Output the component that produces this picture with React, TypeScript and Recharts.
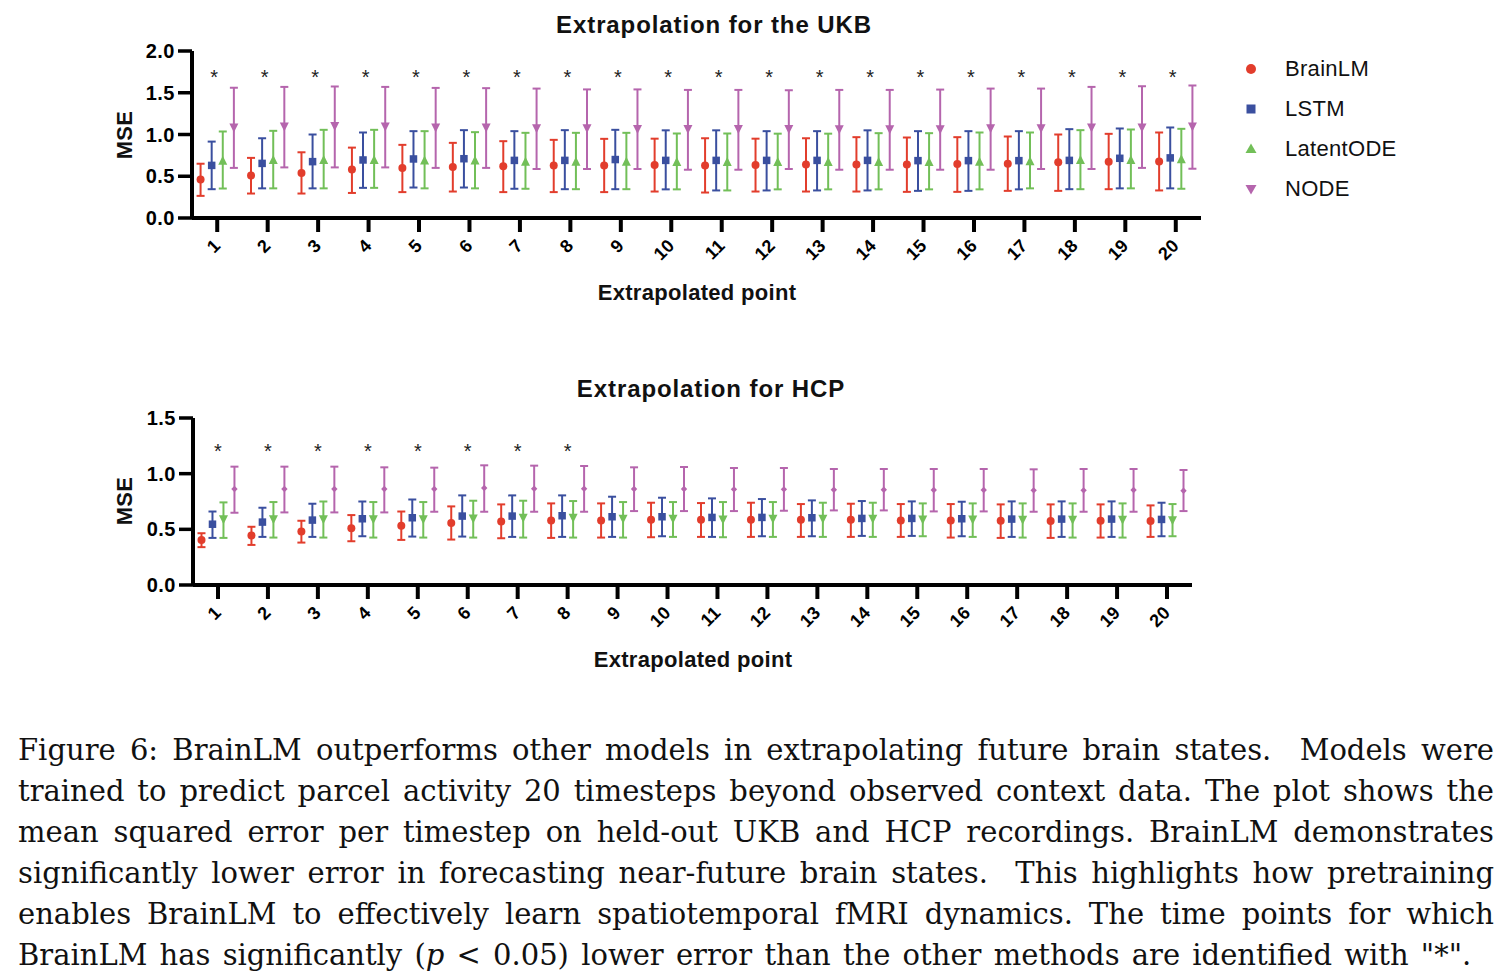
import React from 'react';
import { ComposedChart, Scatter, XAxis, YAxis, ErrorBar, Legend } from 'recharts';

// ---------- data ----------
const categories = [1, 2, 3, 4, 5, 6, 7, 8, 9, 10, 11, 12, 13, 14, 15, 16, 17, 18, 19, 20];
const modelNames = ['BrainLM', 'LSTM', 'LatentODE', 'NODE'];

// UKB panel
const ukbBrainMean = [0.46, 0.51, 0.54, 0.58, 0.6, 0.61, 0.62, 0.63, 0.63, 0.635, 0.63, 0.635, 0.64, 0.64, 0.64, 0.647, 0.65, 0.667, 0.675, 0.678];
const ukbBrainLow = [0.265, 0.293, 0.293, 0.3, 0.31, 0.317, 0.31, 0.31, 0.31, 0.317, 0.305, 0.317, 0.317, 0.317, 0.313, 0.313, 0.325, 0.325, 0.345, 0.33];
const ukbBrainHigh = [0.65, 0.72, 0.787, 0.843, 0.876, 0.9, 0.92, 0.936, 0.948, 0.95, 0.955, 0.95, 0.955, 0.968, 0.964, 0.968, 0.976, 1.0, 1.008, 1.024];

const ukbLstmMean = [0.63, 0.654, 0.675, 0.695, 0.707, 0.71, 0.69, 0.69, 0.7, 0.69, 0.69, 0.69, 0.69, 0.69, 0.687, 0.687, 0.687, 0.69, 0.715, 0.72];
const ukbLstmLow = [0.345, 0.355, 0.355, 0.361, 0.365, 0.365, 0.35, 0.345, 0.345, 0.343, 0.33, 0.33, 0.33, 0.33, 0.325, 0.325, 0.343, 0.345, 0.355, 0.355];
const ukbLstmHigh = [0.915, 0.955, 1.0, 1.024, 1.04, 1.052, 1.04, 1.052, 1.056, 1.05, 1.05, 1.04, 1.04, 1.05, 1.04, 1.04, 1.04, 1.064, 1.072, 1.084];

const ukbLatentMean = [0.68, 0.69, 0.69, 0.69, 0.685, 0.683, 0.67, 0.67, 0.67, 0.667, 0.667, 0.667, 0.667, 0.667, 0.667, 0.67, 0.675, 0.69, 0.69, 0.7];
const ukbLatentLow = [0.353, 0.355, 0.355, 0.361, 0.355, 0.355, 0.35, 0.345, 0.345, 0.343, 0.33, 0.343, 0.343, 0.343, 0.343, 0.343, 0.355, 0.345, 0.355, 0.35];
const ukbLatentHigh = [1.036, 1.044, 1.056, 1.056, 1.04, 1.028, 1.02, 1.02, 1.02, 1.012, 1.012, 1.01, 1.01, 1.016, 1.016, 1.024, 1.024, 1.052, 1.06, 1.068];

const ukbNodeMean = [1.09, 1.1, 1.108, 1.1, 1.09, 1.09, 1.08, 1.08, 1.072, 1.072, 1.072, 1.072, 1.068, 1.068, 1.068, 1.08, 1.08, 1.09, 1.09, 1.1];
const ukbNodeLow = [0.6, 0.606, 0.606, 0.606, 0.6, 0.6, 0.587, 0.587, 0.587, 0.578, 0.578, 0.587, 0.578, 0.578, 0.578, 0.578, 0.587, 0.587, 0.6, 0.59];
const ukbNodeHigh = [1.56, 1.57, 1.575, 1.57, 1.558, 1.555, 1.55, 1.54, 1.54, 1.534, 1.534, 1.53, 1.534, 1.534, 1.538, 1.55, 1.55, 1.57, 1.578, 1.587];

// HCP panel
const hcpBrainMean = [0.405, 0.444, 0.48, 0.51, 0.532, 0.556, 0.57, 0.58, 0.58, 0.586, 0.586, 0.586, 0.586, 0.586, 0.58, 0.58, 0.577, 0.574, 0.577, 0.574];
const hcpBrainLow = [0.34, 0.36, 0.381, 0.393, 0.405, 0.408, 0.42, 0.423, 0.426, 0.429, 0.432, 0.432, 0.432, 0.432, 0.432, 0.426, 0.423, 0.423, 0.426, 0.432];
const hcpBrainHigh = [0.465, 0.523, 0.577, 0.628, 0.66, 0.706, 0.724, 0.733, 0.733, 0.739, 0.736, 0.739, 0.727, 0.73, 0.727, 0.727, 0.724, 0.724, 0.724, 0.715];

const hcpLstmMean = [0.546, 0.565, 0.583, 0.595, 0.604, 0.619, 0.619, 0.622, 0.613, 0.613, 0.607, 0.607, 0.604, 0.598, 0.598, 0.595, 0.592, 0.592, 0.592, 0.589];
const hcpLstmLow = [0.423, 0.432, 0.432, 0.438, 0.435, 0.435, 0.432, 0.432, 0.432, 0.438, 0.432, 0.438, 0.438, 0.441, 0.441, 0.438, 0.432, 0.432, 0.432, 0.438];
const hcpLstmHigh = [0.66, 0.694, 0.73, 0.75, 0.768, 0.805, 0.805, 0.805, 0.793, 0.784, 0.778, 0.772, 0.76, 0.754, 0.751, 0.748, 0.751, 0.751, 0.751, 0.739];

const hcpLatentMean = [0.595, 0.595, 0.595, 0.595, 0.595, 0.6, 0.607, 0.607, 0.598, 0.598, 0.592, 0.598, 0.598, 0.598, 0.592, 0.592, 0.589, 0.589, 0.589, 0.586];
const hcpLatentLow = [0.423, 0.426, 0.426, 0.426, 0.426, 0.426, 0.426, 0.426, 0.426, 0.432, 0.429, 0.432, 0.432, 0.432, 0.438, 0.432, 0.426, 0.426, 0.426, 0.438];
const hcpLatentHigh = [0.742, 0.745, 0.75, 0.745, 0.745, 0.757, 0.757, 0.754, 0.745, 0.745, 0.745, 0.745, 0.739, 0.739, 0.733, 0.733, 0.733, 0.733, 0.733, 0.727];

const hcpNodeMean = [0.862, 0.862, 0.862, 0.862, 0.862, 0.871, 0.865, 0.865, 0.862, 0.862, 0.859, 0.859, 0.856, 0.856, 0.853, 0.853, 0.85, 0.85, 0.853, 0.847];
const hcpNodeLow = [0.649, 0.652, 0.652, 0.652, 0.658, 0.658, 0.658, 0.658, 0.664, 0.664, 0.664, 0.667, 0.67, 0.67, 0.661, 0.661, 0.658, 0.658, 0.658, 0.664];
const hcpNodeHigh = [1.063, 1.063, 1.063, 1.057, 1.054, 1.075, 1.072, 1.069, 1.057, 1.06, 1.051, 1.051, 1.042, 1.042, 1.042, 1.042, 1.039, 1.042, 1.042, 1.033];

// significance (p < 0.05) markers
const ukbSignificant = [1, 2, 3, 4, 5, 6, 7, 8, 9, 10, 11, 12, 13, 14, 15, 16, 17, 18, 19, 20];
const hcpSignificant = [1, 2, 3, 4, 5, 6, 7, 8];

const ukbTicks = [0, 0.5, 1.0, 1.5, 2.0];
const hcpTicks = [0, 0.5, 1.0, 1.5];

// ---------- style ----------
const COLORS = ['#e23d2c', '#3a4f9f', '#72bf58', '#b565ad'];
const GROUP_OFFSETS = [-0.33, -0.11, 0.11, 0.33];
const SANS = '"Liberation Sans", Arial, Helvetica, sans-serif';

type Row = { x: number; y: number; err: [number, number] };

function buildRows(mean: number[], low: number[], high: number[], offset: number): Row[] {
  return categories.map((c, i) => ({
    x: c + offset,
    y: mean[i],
    err: [mean[i] - low[i], high[i] - mean[i]],
  }));
}

// marker shapes
const Circle = (color: string, r: number) => (p: any) => (
  <circle cx={p.cx} cy={p.cy} r={r} fill={color} />
);
const Square = (color: string, s: number) => (p: any) => (
  <rect x={p.cx - s / 2} y={p.cy - s / 2} width={s} height={s} fill={color} />
);
const TriUp = (color: string, s: number) => (p: any) => (
  <polygon
    points={`${p.cx},${p.cy - s * 0.6} ${p.cx - s / 2},${p.cy + s * 0.4} ${p.cx + s / 2},${p.cy + s * 0.4}`}
    fill={color}
  />
);
const TriDown = (color: string, s: number) => (p: any) => (
  <polygon
    points={`${p.cx},${p.cy + s * 0.6} ${p.cx - s / 2},${p.cy - s * 0.4} ${p.cx + s / 2},${p.cy - s * 0.4}`}
    fill={color}
  />
);
const Diamond = (color: string, s: number) => (p: any) => (
  <polygon
    points={`${p.cx},${p.cy - s} ${p.cx + s},${p.cy} ${p.cx},${p.cy + s} ${p.cx - s},${p.cy}`}
    fill={color}
  />
);

const Star = (p: any) => (
  <text x={p.cx} y={p.cy + 10} textAnchor="middle" fontSize={20} fontFamily={SANS} fill="#222">
    *
  </text>
);

const XTick = (props: any) => {
  const { x, y, payload } = props;
  return (
    <g transform={`translate(${x + 4},${y + 13})`}>
      <text
        x={0}
        y={0}
        textAnchor="end"
        transform="rotate(-45)"
        fontSize={18}
        fontWeight="bold"
        fontFamily={SANS}
        fill="#000"
      >
        {payload.value}
      </text>
    </g>
  );
};

const YTick = (props: any) => {
  const { x, y, payload } = props;
  return (
    <text
      x={x}
      y={y}
      dy={7}
      textAnchor="end"
      fontSize={20}
      fontWeight="bold"
      fontFamily={SANS}
      letterSpacing={0.5}
      fill="#000"
    >
      {Number(payload.value).toFixed(1)}
    </text>
  );
};

const legendShapes = [
  <circle cx={11} cy={11} r={5} fill={COLORS[0]} />,
  <rect x={6.5} y={6.5} width={9} height={9} fill={COLORS[1]} />,
  <polygon points="11,5.5 5.5,15 16.5,15" fill={COLORS[2]} />,
  <polygon points="11,16.5 5.5,7 16.5,7" fill={COLORS[3]} />,
];

const LegendContent = () => (
  <div style={{ fontFamily: SANS }}>
    {modelNames.map((n, i) => (
      <div key={n} style={{ height: 40, display: 'flex', alignItems: 'center' }}>
        <svg width={22} height={22}>{legendShapes[i]}</svg>
        <span style={{ marginLeft: 23, fontSize: 22, color: '#111', letterSpacing: 0.3 }}>{n}</span>
      </div>
    ))}
  </div>
);

type Series = { name: string; rows: Row[]; color: string; shape: any };

function Panel(props: {
  series: Series[];
  yMax: number;
  yTicks: number[];
  stars: { x: number; y: number }[];
  margin: { top: number; right: number; bottom: number; left: number };
  showLegend?: boolean;
}) {
  const { series, yMax, yTicks, stars, margin, showLegend } = props;
  return (
    <ComposedChart width={1512} height={330} margin={margin}>
      <XAxis
        type="number"
        dataKey="x"
        domain={[0.5, 20.5]}
        ticks={categories}
        interval={0}
        allowDataOverflow
        height={60}
        axisLine={{ stroke: '#000', strokeWidth: 4 }}
        tickLine={{ stroke: '#000', strokeWidth: 4 }}
        tickSize={14}
        tickMargin={2}
        tick={<XTick />}
      />
      <YAxis
        type="number"
        dataKey="y"
        domain={[0, yMax]}
        ticks={yTicks}
        interval={0}
        allowDataOverflow
        width={60}
        axisLine={{ stroke: '#000', strokeWidth: 4 }}
        tickLine={{ stroke: '#000', strokeWidth: 3.5 }}
        tickSize={14}
        tickMargin={3}
        tick={<YTick />}
      />
      {series.map((s) => (
        <Scatter
          key={s.name}
          name={s.name}
          data={s.rows}
          fill={s.color}
          shape={s.shape}
          isAnimationActive={false}
        >
          <ErrorBar dataKey="err" direction="y" width={4} strokeWidth={2} stroke={s.color} />
        </Scatter>
      ))}
      <Scatter name="sig" data={stars} shape={Star} isAnimationActive={false} legendType="none" />
      {showLegend && (
        <Legend
          layout="horizontal"
          verticalAlign="middle"
          align="center"
          content={<LegendContent />}
          wrapperStyle={{ position: 'absolute', left: 1240, top: 49, width: 220, height: 160 }}
        />
      )}
    </ComposedChart>
  );
}

const ukbSeries: Series[] = [
  { name: modelNames[0], rows: buildRows(ukbBrainMean, ukbBrainLow, ukbBrainHigh, GROUP_OFFSETS[0]), color: COLORS[0], shape: Circle(COLORS[0], 4) },
  { name: modelNames[1], rows: buildRows(ukbLstmMean, ukbLstmLow, ukbLstmHigh, GROUP_OFFSETS[1]), color: COLORS[1], shape: Square(COLORS[1], 7.5) },
  { name: modelNames[2], rows: buildRows(ukbLatentMean, ukbLatentLow, ukbLatentHigh, GROUP_OFFSETS[2]), color: COLORS[2], shape: TriUp(COLORS[2], 9) },
  { name: modelNames[3], rows: buildRows(ukbNodeMean, ukbNodeLow, ukbNodeHigh, GROUP_OFFSETS[3]), color: COLORS[3], shape: TriDown(COLORS[3], 9) },
];

const hcpSeries: Series[] = [
  { name: modelNames[0], rows: buildRows(hcpBrainMean, hcpBrainLow, hcpBrainHigh, GROUP_OFFSETS[0]), color: COLORS[0], shape: Circle(COLORS[0], 4) },
  { name: modelNames[1], rows: buildRows(hcpLstmMean, hcpLstmLow, hcpLstmHigh, GROUP_OFFSETS[1]), color: COLORS[1], shape: Square(COLORS[1], 7.5) },
  { name: modelNames[2], rows: buildRows(hcpLatentMean, hcpLatentLow, hcpLatentHigh, GROUP_OFFSETS[2]), color: COLORS[2], shape: TriDown(COLORS[2], 9) },
  { name: modelNames[3], rows: buildRows(hcpNodeMean, hcpNodeLow, hcpNodeHigh, GROUP_OFFSETS[3]), color: COLORS[3], shape: Diamond(COLORS[3], 3.2) },
];

const ukbStars = ukbSignificant.map((c) => ({ x: c - 0.06, y: 1.73 }));
const hcpStars = hcpSignificant.map((c) => ({ x: c, y: 1.23 }));

const captionLines = [
  'Figure 6: BrainLM outperforms other models in extrapolating future brain states.  Models were',
  'trained to predict parcel activity 20 timesteps beyond observed context data. The plot shows the',
  'mean squared error per timestep on held-out UKB and HCP recordings. BrainLM demonstrates',
  'significantly lower error in forecasting near-future brain states.  This highlights how pretraining',
  'enables BrainLM to effectively learn spatiotemporal fMRI dynamics. The time points for which',
];

const titleStyle: React.CSSProperties = {
  position: 'absolute',
  fontFamily: SANS,
  fontWeight: 'bold',
  fontSize: 24,
  letterSpacing: 0.9,
  color: '#111',
  whiteSpace: 'nowrap',
  transform: 'translate(-50%, -50%)',
};

const axisTitleStyle: React.CSSProperties = {
  position: 'absolute',
  fontFamily: SANS,
  fontWeight: 'bold',
  fontSize: 22,
  letterSpacing: 0.3,
  color: '#111',
  whiteSpace: 'nowrap',
  transform: 'translate(-50%, -50%)',
};

export default function App() {
  return (
    <div
      style={{
        position: 'absolute',
        left: 0,
        top: 0,
        width: 1512,
        height: 976,
        background: '#fff',
        overflow: 'hidden',
      }}
    >
      {/* UKB panel */}
      <div style={{ position: 'absolute', left: 0, top: 0 }}>
        <Panel
          series={ukbSeries}
          yMax={2}
          yTicks={ukbTicks}
          stars={ukbStars}
          margin={{ top: 51, right: 311, bottom: 52, left: 132 }}
          showLegend
        />
      </div>
      <div style={{ ...titleStyle, left: 714, top: 25 }}>Extrapolation for the UKB</div>
      <div style={{ ...axisTitleStyle, left: 697, top: 293 }}>Extrapolated point</div>
      <div style={{ ...axisTitleStyle, left: 125, top: 135, transform: 'translate(-50%, -50%) rotate(-90deg)' }}>MSE</div>

      {/* HCP panel */}
      <div style={{ position: 'absolute', left: 0, top: 370 }}>
        <Panel
          series={hcpSeries}
          yMax={1.5}
          yTicks={hcpTicks}
          stars={hcpStars}
          margin={{ top: 48, right: 320, bottom: 55, left: 133 }}
        />
      </div>
      <div style={{ ...titleStyle, left: 711, top: 389 }}>Extrapolation for HCP</div>
      <div style={{ ...axisTitleStyle, left: 693, top: 660 }}>Extrapolated point</div>
      <div style={{ ...axisTitleStyle, left: 125, top: 501, transform: 'translate(-50%, -50%) rotate(-90deg)' }}>MSE</div>

      {/* caption */}
      <div
        style={{
          position: 'absolute',
          left: 18,
          top: 730,
          width: 1476,
          fontFamily: '"DejaVu Serif", "Liberation Serif", serif',
          fontSize: 29,
          lineHeight: '41px',
          color: '#111',
        }}
      >
        {captionLines.map((l, i) => (
          <div key={i} style={{ textAlign: 'justify', textAlignLast: 'justify', whiteSpace: 'pre-wrap' }}>
            {l}
          </div>
        ))}
        <div style={{ textAlign: 'left', wordSpacing: 3, whiteSpace: 'nowrap' }}>
          BrainLM has significantly (<i>p</i> &lt; 0.05) lower error than the other methods are identified with "*".
        </div>
      </div>
    </div>
  );
}
